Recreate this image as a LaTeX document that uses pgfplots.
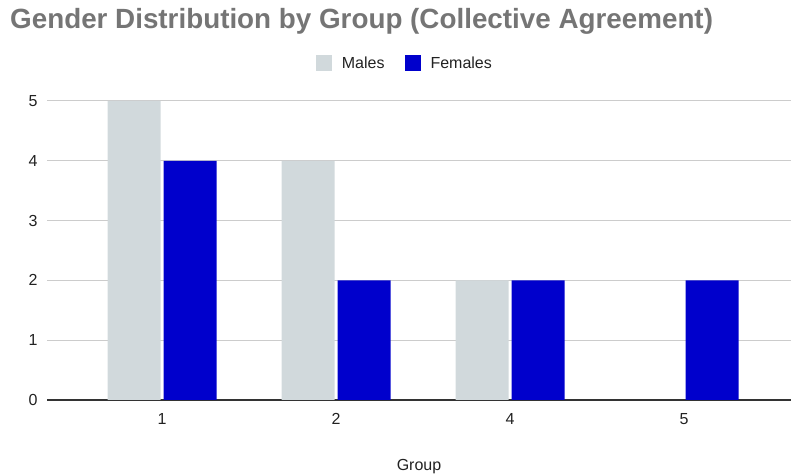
\documentclass[border=0pt]{standalone}
\usepackage{fontspec}
\setmainfont{Liberation Sans}
\usepackage{pgfplots}
\pgfplotsset{compat=1.18}

\definecolor{males}{HTML}{D1D9DC}
\definecolor{females}{HTML}{0000CC}
\definecolor{titlegray}{HTML}{757575}
\definecolor{gridgray}{HTML}{CCCCCC}
\definecolor{axisgray}{HTML}{333333}
\definecolor{labelblack}{HTML}{222222}

\begin{document}
\begin{tikzpicture}
\path[use as bounding box] (0bp,0bp) rectangle (791bp,475bp);
\node[anchor=base west, text=titlegray, font=\fontsize{27.8bp}{32bp}\selectfont\bfseries, inner sep=0pt] at (10bp,446bp) {Gender Distribution by Group (Collective Agreement)};
\begin{axis}[
  at={(47bp,75bp)}, anchor=south west,
  scale only axis, width=744bp, height=299bp,
  xmin=-0.661, xmax=3.615, ymin=0, ymax=5,
  ybar=3bp, bar width=53bp,
  xtick={0,1,2,3}, xticklabels={1,2,4,5},
  ytick={0,1,2,3,4,5},
  ymajorgrids, grid style={gridgray, line width=1bp},
  axis x line*=bottom, axis y line*=left,
  x axis line style={axisgray, line width=1.2bp, -},
  y axis line style={draw=none},
  major tick length=0pt,
  tick style={draw=none},
  /pgf/number format/assume math mode=true,
  ticklabel style={font=\fontsize{16bp}{19bp}\selectfont, text=labelblack},
  xticklabel style={yshift=-10bp},
  yticklabel style={xshift=-6bp},
  xlabel={Group},
  xlabel style={font=\fontsize{16bp}{19bp}\selectfont, text=labelblack, yshift=-28bp},
  legend columns=2,
  legend style={at={(0.481,1.127)}, anchor=center, draw=none, fill=none,
    font=\fontsize{16bp}{19bp}\selectfont, text=labelblack,
    /tikz/every odd column/.append style={column sep=8bp},
    /tikz/every even column/.append style={column sep=18bp}},
  legend image code/.code={\fill[#1, draw=none] (0bp,-8bp) rectangle (16bp,8bp);},
]
\addplot[fill=males, draw=none] coordinates {(0,5) (1,4) (2,2)};
\addplot[fill=females, draw=none] coordinates {(0,4) (1,2) (2,2) (3,2)};
\legend{Males, Females}
\end{axis}
\end{tikzpicture}
\end{document}
